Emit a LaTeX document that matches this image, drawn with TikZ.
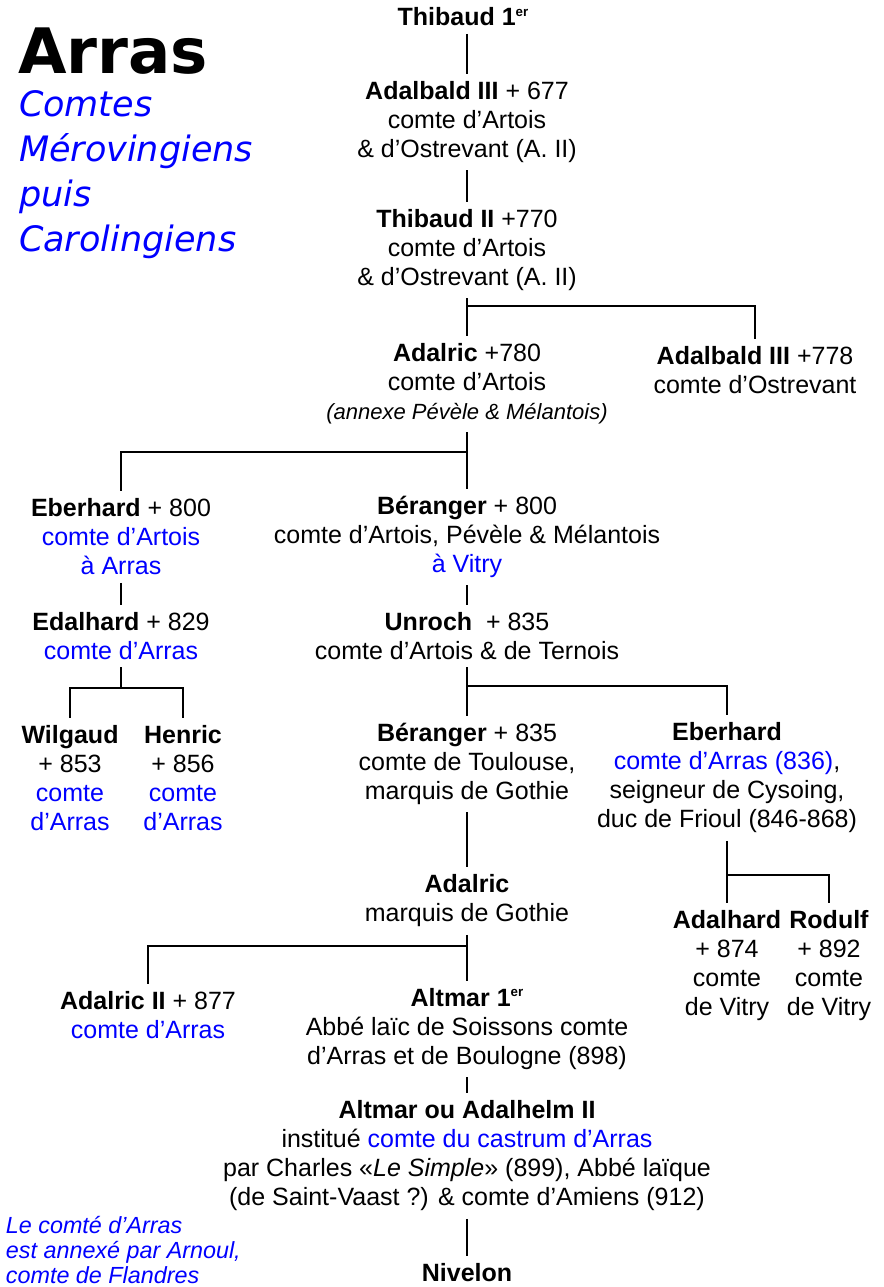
\documentclass[tikz,border=0pt]{standalone}
\usepackage{fontspec}
\setmainfont{Liberation Sans}
\newfontfamily\titlefont{DejaVu Sans}
\definecolor{comteblue}{RGB}{0,0,255}
\newcommand{\bleu}[1]{\textcolor{comteblue}{#1}}
\newcommand{\premier}{\raisebox{0.75ex}{\fontsize{10}{10}\selectfont er}}

\begin{document}
\begin{tikzpicture}[x=0.75pt, y=-0.75pt, line width=1.5pt,
        comte/.style={align=center, inner xsep=0pt, inner ysep=5pt,
            font=\fontsize{18.75}{21.75}\selectfont}]
        \useasboundingbox (0,0) rectangle (883,1287);

        % titre
        \node[anchor=west, inner sep=0pt, font=\titlefont\bfseries\fontsize{47}{50}\selectfont] (titre) at (17,51) {Arras};
        \node[anchor=west, align=left, inner sep=0pt, text=comteblue,
            font=\titlefont\itshape\fontsize{26.25}{33.75}\selectfont] (soustitre) at (18,175)
            {Comtes\\Mérovingiens\\puis\\Carolingiens};
        \node[anchor=west, align=left, inner sep=0pt, text=comteblue,
            font=\itshape\fontsize{17.5}{18.4}\selectfont] (annexion) at (5,1250)
            {Le comté d’Arras\\est annexé par Arnoul,\\comte de Flandres};

        % comtes
        \node[comte] (thibaud) at (463,17) {\textbf{Thibaud 1\premier}};
        \node[comte] (adalbald) at (467,122) {\textbf{Adalbald III} + 677\\comte d’Artois\\\& d’Ostrevant (A.~II)};
        \node[comte] (thibaudii) at (467,250) {\textbf{Thibaud II} +770\\comte d’Artois\\\& d’Ostrevant (A.~II)};
        \node[comte] (adalric) at (467,384) {\textbf{Adalric} +780\\comte d’Artois\\{\itshape\fontsize{16.5}{21.75}\selectfont(annexe Pévèle \& Mélantois)}};
        \node[comte] (ostrevant) at (755,370) {\textbf{Adalbald III} +778\\comte d’Ostrevant};
        \node[comte] (eberhard) at (121,537) {\textbf{Eberhard} + 800\\\bleu{comte d’Artois}\\\bleu{à Arras}};
        \node[comte] (beranger) at (467,537) {\textbf{Béranger} + 800\\comte d’Artois, Pévèle \& Mélantois\\\bleu{à Vitry}};
        \node[comte] (edalhard) at (121,636) {\textbf{Edalhard} + 829\\\bleu{comte d’Arras}};
        \node[comte] (unroch) at (467,636) {\textbf{Unroch}~ + 835\\comte d’Artois \& de Ternois};
        \node[comte] (wilgaud) at (70,778) {\textbf{Wilgaud}\\+ 853\\\bleu{comte}\\\bleu{d’Arras}};
        \node[comte] (henric) at (183,778) {\textbf{Henric}\\+ 856\\\bleu{comte}\\\bleu{d’Arras}};
        \node[comte] (berangerii) at (467,764) {\textbf{Béranger} + 835\\comte de Toulouse,\\marquis de Gothie};
        \node[comte] (eberhardii) at (727,778) {\textbf{Eberhard}\\\bleu{comte d’Arras (836)},\\seigneur de Cysoing,\\duc de Frioul (846-868)};
        \node[comte] (adalricg) at (467,901) {\textbf{Adalric}\\marquis de Gothie};
        \node[comte] (adalhard) at (727,966) {\textbf{Adalhard}\\+ 874\\comte\\de Vitry};
        \node[comte] (rodulf) at (829,966) {\textbf{Rodulf}\\+ 892\\comte\\de Vitry};
        \node[comte] (adalricii) at (148,1015) {\textbf{Adalric II} + 877\\\bleu{comte d’Arras}};
        \node[comte] (altmar) at (467,1029) {\textbf{Altmar 1\premier}\\Abbé laïc de Soissons comte\\d’Arras et de Boulogne (898)};
        \node[comte] (adalhelm) at (467,1156) {\textbf{Altmar ou Adalhelm II}\\institué \bleu{comte du castrum d’Arras}\\par Charles «\textit{Le Simple}» (899), Abbé laïque\\(de Saint-Vaast ?) \& comte d’Amiens (912)};
        \node[comte] (nivelon) at (467,1273) {\textbf{Nivelon}};

        % fourches
        \coordinate (fthibaud) at (467,306);
        \coordinate (fadalric) at (467,452);
        \coordinate (fedalhard) at (121,688);
        \coordinate (funroch) at (467,686);
        \coordinate (feberhard) at (727,875);
        \coordinate (fgothie) at (467,946);

        \path (adalbald.north |- thibaud.south) edge (adalbald.north);
        \path (adalbald) edge (thibaudii);
        \path (thibaudii) edge (adalric);
        \path (adalric) edge (beranger);
        \path (eberhard) edge (edalhard);
        \path (beranger) edge (unroch);
        \path (unroch) edge (berangerii);
        \path (berangerii) edge (adalricg);
        \path (eberhardii) edge (adalhard);
        \path (adalricg) edge (altmar);
        \path (altmar) edge (adalhelm);
        \path (adalhelm) edge (nivelon);
        \path (edalhard.south) edge (fedalhard);

        \draw (fthibaud) -| (ostrevant.north);
        \draw (fadalric) -| (eberhard.north);
        \draw (wilgaud.north) |- (fedalhard) -| (henric.north);
        \draw (funroch) -| (eberhardii.north);
        \draw (feberhard) -| (rodulf.north);
        \draw (fgothie) -| (adalricii.north);
    \end{tikzpicture}
\end{document}
